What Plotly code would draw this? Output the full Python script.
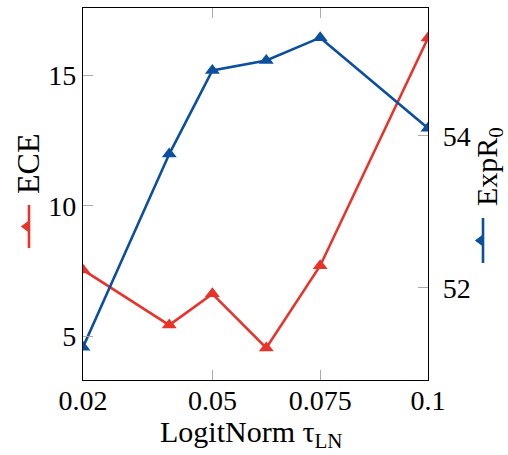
import plotly.graph_objects as go

# Data
tau = [0.02, 0.04, 0.05, 0.0625, 0.075, 0.1]
ece = [7.54, 5.42, 6.62, 4.54, 7.70, 16.45]
expr0 = [51.22, 53.76, 54.86, 54.99, 55.29, 54.10]
x_ticks = [0.02, 0.05, 0.075, 0.1]
x_ticklabels = ["0.02", "0.05", "0.075", "0.1"]
ece_ticks = [5, 10, 15]
expr_ticks = [52, 54]

RED = "#e8332a"
BLUE = "#0b4f9e"
FONT = "Liberation Serif"

W, H = 508, 455
ML, MR, MT, MB = 83, 80, 8, 75
PW, PH = W - ML - MR, H - MT - MB


def px(xp):
    return (xp - ML) / PW


def py(yp):
    return (H - MB - yp) / PH


fig = go.Figure()
fig.add_trace(go.Scatter(
    x=tau, y=ece, mode="lines+markers", name="ECE",
    line=dict(color=RED, width=2.6),
    marker=dict(symbol="triangle-up", size=13, color=RED),
    yaxis="y", showlegend=False,
))
fig.add_trace(go.Scatter(
    x=tau, y=expr0, mode="lines+markers", name="ExpR0",
    line=dict(color=BLUE, width=2.6),
    marker=dict(symbol="triangle-up", size=13, color=BLUE),
    yaxis="y2", showlegend=False,
))

tickfont = dict(family=FONT, size=28, color="black")

fig.update_layout(
    width=W, height=H,
    margin=dict(l=ML, r=MR, t=MT, b=MB),
    paper_bgcolor="white", plot_bgcolor="white",
    xaxis=dict(
        range=[0.02, 0.1], tickvals=x_ticks, ticktext=x_ticklabels,
        showline=True, linecolor="black", linewidth=1.3, mirror="ticks",
        ticks="inside", ticklen=10, tickwidth=1.3, tickcolor="#aaaaaa",
        showgrid=False, zeroline=False, tickfont=tickfont, ticklabelstandoff=-5,
    ),
    yaxis=dict(
        range=[3.31, 17.6], tickvals=ece_ticks,
        showline=True, linecolor="black", linewidth=1.3,
        ticks="inside", ticklen=10, tickwidth=1.3, tickcolor="#aaaaaa",
        showgrid=False, zeroline=False, tickfont=tickfont,
    ),
    yaxis2=dict(
        range=[50.79, 55.68], tickvals=expr_ticks, overlaying="y", side="right",
        showline=True, linecolor="black", linewidth=1.3,
        ticks="inside", ticklen=10, tickwidth=1.3, tickcolor="#aaaaaa",
        showgrid=False, zeroline=False, tickfont=tickfont, ticklabelstandoff=8,
    ),
)

# x axis title
fig.add_annotation(text="LogitNorm τ<sub>LN</sub>", xref="paper", yref="paper",
                   x=px(251), y=py(455), xanchor="center", yanchor="bottom",
                   showarrow=False, font=dict(family=FONT, size=30, color="black"))

# axis titles with legend icons
fig.add_annotation(text="ECE", xref="paper", yref="paper", x=px(28), y=py(164),
                   xanchor="center", yanchor="middle", textangle=-90, showarrow=False,
                   font=dict(family=FONT, size=32, color="black"))
fig.add_annotation(text="ExpR<sub>0</sub>", xref="paper", yref="paper", x=px(489), y=py(167),
                   xanchor="center", yanchor="middle", textangle=-90, showarrow=False,
                   font=dict(family=FONT, size=30, color="black"))

def icon(xc, y0, y1, color):
    fig.add_shape(type="line", xref="paper", yref="paper",
                  x0=px(xc), x1=px(xc), y0=py(y0), y1=py(y1),
                  line=dict(color=color, width=2.6))
    ym = (y0 + y1) / 2
    path = "M {} {} L {} {} L {} {} Z".format(
        px(xc - 7.5), py(ym), px(xc), py(ym - 5.5), px(xc), py(ym + 5.5))
    fig.add_shape(type="path", xref="paper", yref="paper", path=path,
                  fillcolor=color, line=dict(color=color, width=1))

icon(29, 205, 248, RED)
icon(483, 218, 263, BLUE)

fig.write_html("out.html")
